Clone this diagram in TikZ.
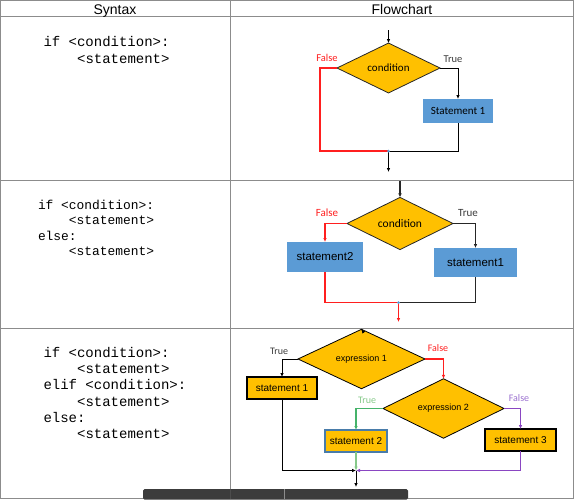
\documentclass[tikz,border=0pt]{standalone}
\usepackage{fontspec}
\setmainfont{Liberation Sans}
\newfontfamily\codefont{Liberation Mono}
\newfontfamily\calfont{Carlito}
\usetikzlibrary{shapes.geometric,arrows.meta}

\definecolor{gridgray}{HTML}{8C8C8C}
\definecolor{decfill}{HTML}{FFC000}
\definecolor{boxblue}{HTML}{5B9BD5}
\definecolor{lnred}{HTML}{FF1F1F}
\definecolor{lngreen}{HTML}{45B36A}
\definecolor{lblgreen}{HTML}{86C98A}
\definecolor{lnpurple}{HTML}{8A46C2}
\definecolor{lblpurple}{HTML}{9A70CF}
\definecolor{lblgray}{HTML}{3A3A3A}
\definecolor{barfill}{HTML}{3C3C3C}

\tikzset{
  every node/.style={inner sep=0pt, outer sep=0pt},
  grid/.style={draw=gridgray, line width=1pt},
  headtext/.style={font=\fontsize{14}{16}\selectfont, anchor=base},
  codeA/.style={font=\codefont\fontsize{14}{16}\selectfont, anchor=base west},
  codeB/.style={font=\codefont\fontsize{12.9}{15}\selectfont, anchor=base west},
  decision/.style={diamond, fill=decfill, draw=black!85, line width=0.8pt},
  blueproc/.style={rectangle, fill=boxblue},
  orangeproc/.style={rectangle, fill=decfill, draw=black, line width=1.4pt},
  tip/.style={-{Latex[length=4pt,width=3.6pt]}},
  blk/.style={draw=black, line width=1pt},
  blkthick/.style={draw=black!85, line width=1.6pt},
  redln/.style={draw=lnred, line width=1.4pt},
  greenln/.style={draw=lngreen, line width=1.1pt},
  purpleln/.style={draw=lnpurple, line width=1.1pt},
  joint/.style={circle, fill=boxblue, minimum size=3pt},
}

\begin{document}
\begin{tikzpicture}[x=1pt,y=-1pt]
\useasboundingbox (0,0) rectangle (574,499);

% table frame
\draw[grid] (0.5,0.5) rectangle (573.5,498.5);
\draw[grid] (0.5,16.5) -- (573.5,16.5);
\draw[grid] (0.5,180) -- (573.5,180);
\draw[grid] (0.5,328) -- (573.5,328);
\draw[grid] (230,0.5) -- (230,499);

% column headings
\node[headtext] (hsyn) at (115,14) {Syntax};
\node[headtext] (hflow) at (402,14) {Flowchart};

% syntax: if
\node[codeA] (a1) at (43.5,46.5) {if <condition>:};
\node[codeA] (a2) at (43.5,63) {\phantom{else}<statement>};

% syntax: if / else
\node[codeB] (b1) at (38,209) {if <condition>:};
\node[codeB] (b2) at (38,224.5) {\phantom{else}<statement>};
\node[codeB] (b3) at (38,240) {else:};
\node[codeB] (b4) at (38,255.5) {\phantom{else}<statement>};

% syntax: if / elif / else
\node[codeA] (c1) at (43.5,357.5) {if <condition>:};
\node[codeA] (c2) at (43.5,373.7) {\phantom{else}<statement>};
\node[codeA] (c3) at (43.5,389.9) {elif <condition>:};
\node[codeA] (c4) at (43.5,406.1) {\phantom{else}<statement>};
\node[codeA] (c5) at (43.5,422.3) {else:};
\node[codeA] (c6) at (43.5,438.5) {\phantom{else}<statement>};

% ---------- flowchart: if ----------
\coordinate (in1) at (388.5,30);
\node[decision, minimum width=103pt, minimum height=42pt,
      font=\calfont\fontsize{11}{13}\selectfont] (cond1) at (388.5,68) {condition};
\node[blueproc, minimum width=70pt, minimum height=24pt,
      font=\calfont\fontsize{11}{13}\selectfont] (st1) at (458,111) {Statement 1};
\coordinate (j1) at (388.5,151);
\coordinate (out1) at (388.5,172);
\node[font=\calfont\fontsize{10.5}{12}\selectfont, text=lnred] (f1) at (327,58) {False};
\node[font=\calfont\fontsize{10.5}{12}\selectfont, text=lblgray] (t1) at (453,59.5) {True};

\draw[blk, tip] (in1) -- (cond1.north);
\draw[blk, tip] (cond1.east) -| (st1.north);
\draw[blk] (st1.south) |- (j1);
\draw[redln] (cond1.west) -- ++(-17,0) |- (j1);
\draw[blk, tip] (j1) -- (out1);
\node[joint] (dot1) at (j1) {};

% ---------- flowchart: if / else ----------
\coordinate (in2) at (400,181);
\node[decision, minimum width=106pt, minimum height=43pt,
      font=\calfont\fontsize{11.5}{13}\selectfont] (cond2) at (400,223.5) {condition};
\node[blueproc, minimum width=76pt, minimum height=30pt,
      font=\fontsize{11.5}{13}\selectfont] (st2) at (325,257) {statement2};
\node[blueproc, minimum width=83pt, minimum height=29pt,
      font=\fontsize{11.5}{13}\selectfont] (st1b) at (475.5,262.5) {statement1};
\coordinate (j2) at (398.5,302.5);
\coordinate (out2) at (398.5,322);
\node[font=\calfont\fontsize{11}{13}\selectfont, text=lnred] (f2) at (327,212.5) {False};
\node[font=\calfont\fontsize{11}{13}\selectfont, text=lblgray] (t2) at (468,213.5) {True};

\draw[blkthick, tip] (in2) -- (cond2.north);
\draw[redln, tip] (cond2.west) -| (st2.north);
\draw[blkthick, tip] (cond2.east) -| (st1b.north);
\draw[redln] (st2.south) |- (j2);
\draw[blkthick] (st1b.south) |- (j2);
\draw[redln, tip] (j2) -- (out2);
\node[joint] (dot2) at (j2) {};

% ---------- flowchart: if / elif / else ----------
\coordinate (in3) at (362,330);
\node[decision, draw=black, minimum width=127pt, minimum height=42pt,
      font=\fontsize{9}{11}\selectfont] (exp1) at (361.5,359) {expression 1};
\node[orangeproc, minimum width=70pt, minimum height=22pt,
      font=\fontsize{10}{12}\selectfont] (ss1) at (282,388) {statement 1};
\node[decision, draw=black, minimum width=121pt, minimum height=37pt,
      font=\fontsize{9}{11}\selectfont] (exp2) at (443.5,408.5) {expression 2};
\node[orangeproc, draw=boxblue!80!black, line width=1.2pt,
      minimum width=62pt, minimum height=22pt,
      font=\fontsize{10}{12}\selectfont] (ss2) at (356,441) {statement 2};
\node[orangeproc, line width=2pt, minimum width=71pt, minimum height=22pt,
      font=\fontsize{10}{12}\selectfont] (ss3) at (520.5,440) {statement 3};
\coordinate (j3) at (356,470.5);
\coordinate (out3) at (356,487);
\node[font=\calfont\fontsize{10}{12}\selectfont, text=lblgray] (t3a) at (279,351) {True};
\node[font=\calfont\fontsize{10}{12}\selectfont, text=lnred] (f3a) at (438,348) {False};
\node[font=\calfont\fontsize{10}{12}\selectfont, text=lblgreen] (t3b) at (367,400) {True};
\node[font=\calfont\fontsize{10}{12}\selectfont, text=lblpurple] (f3b) at (519,398) {False};

\draw[blk, tip] (in3) -- (exp1.north);
\draw[blk, tip] (exp1.west) -| (ss1.north);
\draw[redln, line width=1.1pt, tip] (exp1.east) -| (exp2.north);
\draw[greenln, tip] (exp2.west) -| (ss2.north);
\draw[purpleln, tip] (exp2.east) -| (ss3.north);
\draw[blk, tip] (ss1.south) |- (j3);
\draw[greenln, draw=lblgreen, tip] (ss2.south) -- (j3);
\draw[purpleln, tip] (ss3.south) |- (j3);
\draw[blk, tip] (j3) -- (out3);

% dark strip along the lower edge
\fill[barfill, rounded corners=1.5pt] (143,499.5) -- (143,489) -- (408,489) -- (408,499.5) -- cycle;
\draw[black!70, line width=0.8pt] (230,489) -- (230,499);
\draw[black!45, line width=0.6pt] (284,489) -- (284,499);
\end{tikzpicture}
\end{document}
